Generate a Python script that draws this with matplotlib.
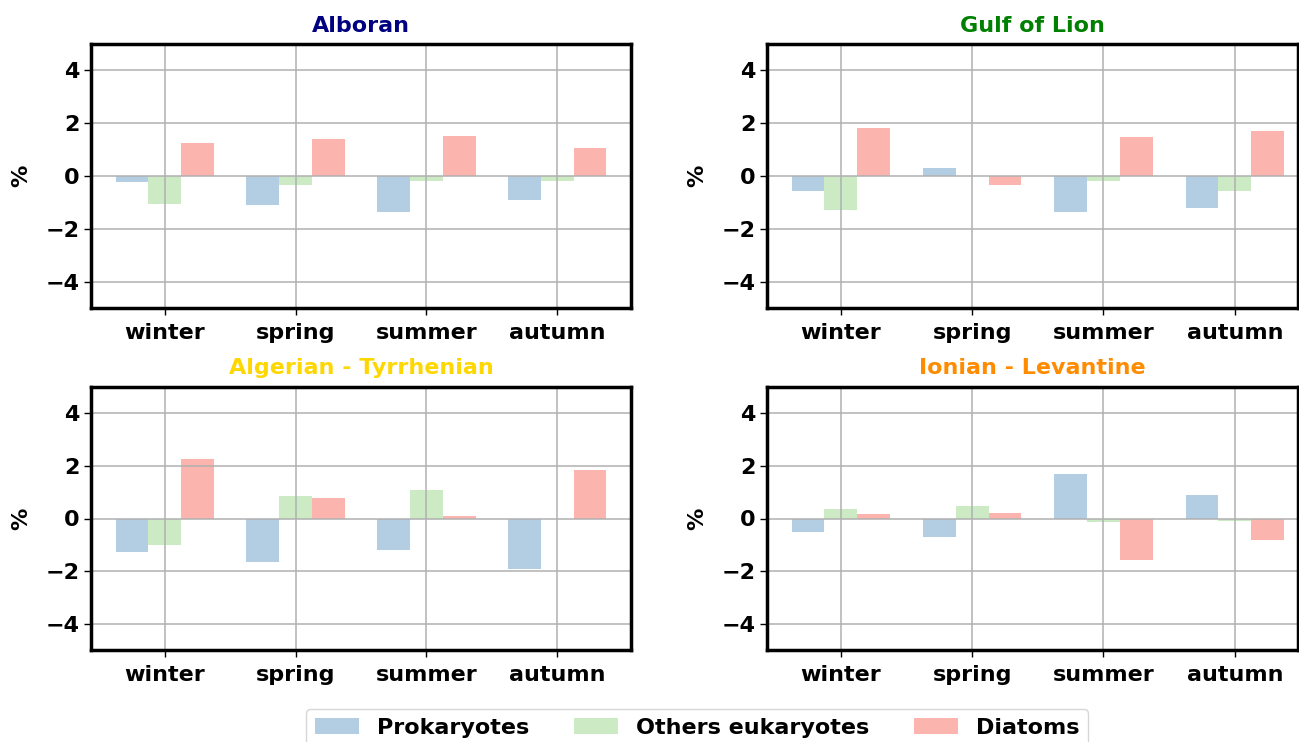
import numpy as np
import matplotlib
matplotlib.use("Agg")
import matplotlib.pyplot as plt

plt.rcParams["font.weight"] = "bold"
plt.rcParams["axes.labelweight"] = "bold"

SEASONS = ["winter", "spring", "summer", "autumn"]
GROUPS = ["Prokaryotes", "Others eukaryotes", "Diatoms"]
COLORS = ["#b3cde3", "#ccebc5", "#fbb4ae"]

REGIONS = ["Alboran", "Gulf of Lion", "Algerian - Tyrrhenian", "Ionian - Levantine"]
TITLE_COLORS = ["navy", "green", "gold", "darkorange"]

# % change per season: prokaryotes, other eukaryotes, diatoms
alboran = [[-0.22, -1.09, -1.35, -0.90],
           [-1.05, -0.33, -0.18, -0.18],
           [1.25, 1.40, 1.52, 1.06]]
gulf_of_lion = [[-0.56, 0.30, -1.35, -1.20],
                [-1.28, 0.0, -0.18, -0.56],
                [1.82, -0.33, 1.48, 1.71]]
algerian_tyrrhenian = [[-1.27, -1.65, -1.19, -1.91],
                       [-1.00, 0.85, 1.08, 0.0],
                       [2.25, 0.77, 0.09, 1.84]]
ionian_levantine = [[-0.51, -0.70, 1.68, 0.89],
                    [0.35, 0.47, -0.13, -0.09],
                    [0.16, 0.20, -1.57, -0.81]]
DATA = [alboran, gulf_of_lion, algerian_tyrrhenian, ionian_levantine]

W, H = 1299, 742
fig = plt.figure(figsize=(W / 100, H / 100), dpi=100)
boxes = [(91, 44, 631, 308), (767, 44, 1298, 308),
         (91, 387, 631, 650), (767, 387, 1298, 650)]

x = np.arange(len(SEASONS))
width = 0.25
handles = []
for k, (l, t, r, b) in enumerate(boxes):
    ax = fig.add_axes([l / W, 1 - b / H, (r - l) / W, (b - t) / H])
    for g in range(3):
        h = ax.bar(x + (g - 1) * width, DATA[k][g], width, color=COLORS[g], label=GROUPS[g])
        if k == 0:
            handles.append(h)
    ax.set_xticks(x)
    ax.set_xticklabels(SEASONS, fontsize=16, fontweight="bold")
    ax.set_ylim(-5, 5)
    ax.set_yticks([-4, -2, 0, 2, 4])
    ax.tick_params(axis="y", labelsize=16)
    ax.tick_params(length=5, width=1)
    ax.tick_params(axis="x", pad=6)
    ax.set_ylabel("%", fontsize=16, fontweight="bold", labelpad=10)
    ax.set_title(REGIONS[k], fontsize=16, fontweight="bold", color=TITLE_COLORS[k], pad=9)
    ax.grid(True, color="#b0b0b0", linewidth=1.1)
    if k % 2 == 1:
        ax.set_xlim(-0.5625, -0.5625 + (r - l) / 131.3)
    else:
        ax.set_xlim(-0.5625, 3.5625)
    for s in ax.spines.values():
        s.set_linewidth(2.5)

fig.legend(handles, GROUPS, loc="upper center", bbox_to_anchor=(697 / W, 1 - 698 / H),
           ncol=3, prop={"weight": "bold", "size": 16})

fig.savefig("out.png", dpi=100)
